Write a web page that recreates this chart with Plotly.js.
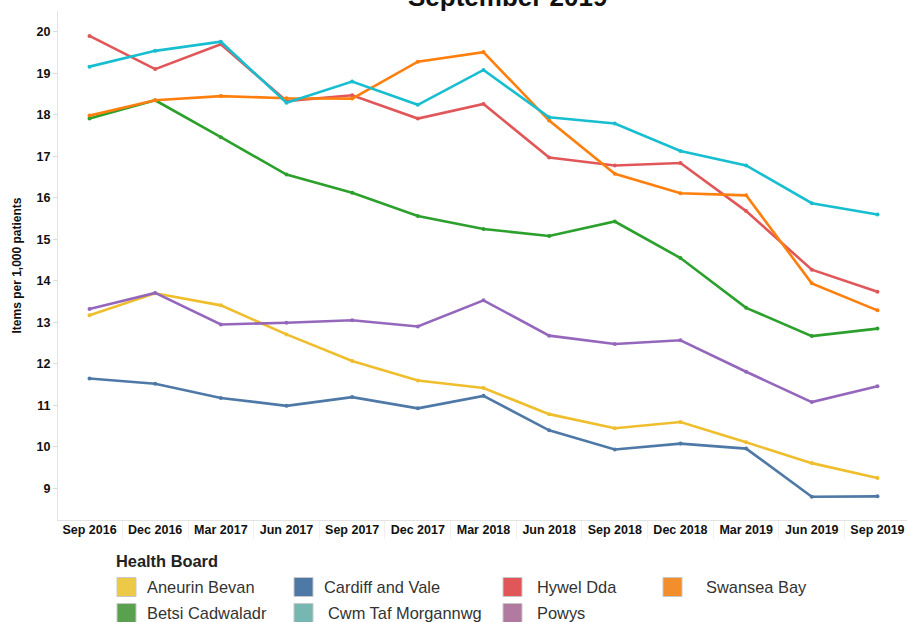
<!DOCTYPE html>
<html>
<head>
<meta charset="utf-8">
<script src="https://cdn.plot.ly/plotly-3.0.1.min.js"></script>
<style>html,body{margin:0;padding:0;background:#fff}#chart{width:907px;height:622px}</style>
</head>
<body>
<div id="chart"></div>
<script>
const quarters = ["Sep 2016","Dec 2016","Mar 2017","Jun 2017","Sep 2017","Dec 2017","Mar 2018","Jun 2018","Sep 2018","Dec 2018","Mar 2019","Jun 2019","Sep 2019"];

const aneurinBevan   = [13.17,13.70,13.41,12.71,12.07,11.60,11.42,10.79,10.45,10.60,10.11,9.61,9.25];
const cardiffVale    = [11.65,11.52,11.18,10.99,11.20,10.93,11.23,10.40,9.94,10.08,9.96,8.80,8.81];
const hywelDda       = [19.90,19.10,19.70,18.33,18.47,17.91,18.26,16.97,16.78,16.84,15.68,14.27,13.74];
const swanseaBay     = [17.98,18.35,18.45,18.40,18.39,19.28,19.51,17.86,16.58,16.11,16.06,13.94,13.29];
const betsiCadwaladr = [17.91,18.35,17.46,16.56,16.12,15.56,15.25,15.08,15.43,14.55,13.35,12.67,12.85];
const cwmTaf         = [19.16,19.54,19.76,18.29,18.80,18.24,19.08,17.94,17.79,17.13,16.78,15.87,15.60];
const powys          = [13.32,13.71,12.95,12.99,13.05,12.90,13.53,12.68,12.48,12.57,11.81,11.08,11.46];

const boardNames = ["Aneurin Bevan","Cardiff and Vale","Hywel Dda","Swansea Bay","Betsi Cadwaladr","Cwm Taf Morgannwg","Powys"];
const boardValues = [aneurinBevan, cardiffVale, hywelDda, swanseaBay, betsiCadwaladr, cwmTaf, powys];
const lineColors = ["#EFBE2C","#4E79A7","#E15759","#FF7F0E","#2CA02C","#17BECF","#9467BD"];
const legendColors = ["#EDC948","#4E79A7","#E15759","#F28E2B","#59A14F","#76B7B2","#B07AA1"];

const drawOrder = [1,0,6,4,2,3,5];
const traces = drawOrder.map(i => ({
  type: "scatter", mode: "lines+markers",
  x: quarters, y: boardValues[i], name: boardNames[i],
  line: {color: lineColors[i], width: 2.6},
  marker: {color: lineColors[i], size: 4},
  showlegend: false, hoverinfo: "x+y+name"
}));

// layout helpers (pixel -> paper)
const L = 58, T = 11, W = 849, H = 509;
const px = v => (v - L) / W;
const py = v => (T + H - v) / H;

const shapes = [];
const annotations = [];
annotations.push({text: "<b>September 2019</b>", xref: "paper", yref: "paper", x: px(507), y: py(-2.5),
  xanchor: "center", yanchor: "middle", showarrow: false, font: {size: 26, color: "#111", family: "Liberation Sans, Arial, sans-serif"}});
annotations.push({text: "<b>Health Board</b>", xref: "paper", yref: "paper", x: px(114), y: py(561),
  xanchor: "left", yanchor: "middle", showarrow: false, font: {size: 16.4, color: "#222", family: "Liberation Sans, Arial, sans-serif"}});
const colX = [[117,145],[294,322],[503,535],[663,704]];
const legendLayout = [[0,0,0],[1,0,1],[2,0,2],[3,0,3],[4,1,0],[5,1,1],[6,1,2]];
const textShift = [0,0,0,0,0,4,0];
legendLayout.forEach(([i,row,col]) => {
  const cy = 587 + row*26;
  const sx = colX[col][0];
  shapes.push({type: "rect", xref: "paper", yref: "paper", x0: px(sx), x1: px(sx+19), y0: py(cy-9.5), y1: py(cy+9.5),
    fillcolor: legendColors[i], line: {color: "#c8c8c8", width: 1}});
  annotations.push({text: boardNames[i], xref: "paper", yref: "paper", x: px(colX[col][1] + textShift[i]), y: py(cy),
    xanchor: "left", yanchor: "middle", showarrow: false, font: {size: 16.4, color: "#333", family: "Liberation Sans, Arial, sans-serif"}});
});

const layout = {
  width: 907, height: 622,
  margin: {l: L, r: 0, t: T, b: 622 - T - H},
  paper_bgcolor: "#fff", plot_bgcolor: "#fff",
  font: {family: "Liberation Sans, Arial, sans-serif", color: "#222"},
  showlegend: false,
  xaxis: {type: "category", range: [-0.48, 12.45], showgrid: false, zeroline: false,
    showline: true, linecolor: "#e3e3e3", linewidth: 1,
    ticks: "outside", tickson: "boundaries", ticklen: 18, tickcolor: "#f0f0f0",
    ticklabelstandoff: -2,
    tickfont: {size: 12.5, color: "#111", weight: "bold"}},
  yaxis: {range: [8.24, 20.5], dtick: 1, tick0: 9, showgrid: false, zeroline: false,
    showline: true, linecolor: "#e3e3e3", linewidth: 1,
    ticks: "outside", ticklen: 4, tickcolor: "#dcdcdc",
    tickfont: {size: 12.5, color: "#111", weight: "bold"},
    title: {text: "<b>Items per 1,000 patients</b>", font: {size: 12, color: "#111"}, standoff: 12}},
  shapes: shapes, annotations: annotations
};

Plotly.newPlot("chart", traces, layout, {displayModeBar: false, staticPlot: true});
</script>
</body>
</html>
